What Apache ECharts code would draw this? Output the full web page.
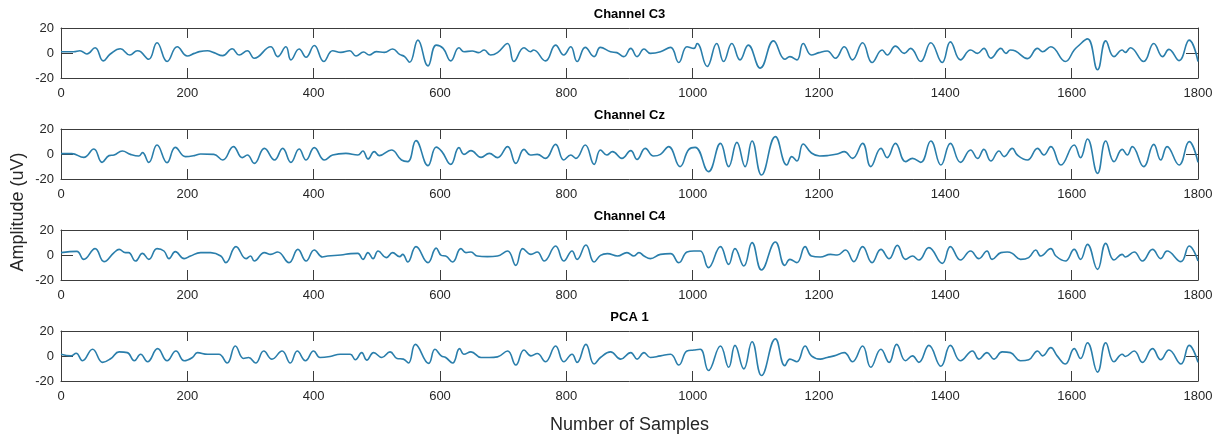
<!DOCTYPE html>
<html>
<head>
<meta charset="utf-8">
<title>EEG channels and first principal component</title>
<script src="https://cdn.jsdelivr.net/npm/echarts@6.0.0/dist/echarts.min.js"></script>
<style>
  html, body { margin: 0; padding: 0; background: #ffffff; }
  #chart { width: 1226px; height: 441px; }
</style>
</head>
<body>
<div id="chart"></div>
<script>
// Sample range and amplitude range shared by every panel
const sampleMin = 0;
const sampleMax = 1800;
const sampleStep = 200;
const ampMin = -20;
const ampMax = 20;
const ampStep = 20;

const panelTitles = ['Channel C3', 'Channel Cz', 'Channel C4', 'PCA 1'];

// [sample index, amplitude in uV] at the turning points of each trace
const c3 = [
  [0,1],[20,1],[30,1.8],[41,-0.8],[54,4.2],[67,-6.3],[78,-0.8],[94,3.4],[109,-1.6],[121,1.8],[126,1.1],
  [139,-5],[152,8.2],[168,-6.8],[184,5],[200,-2.4],[211,-0.3],[219,1.1],[232,1.8],[242,0.3],[256,-2.1],
  [271,3.4],[282,-1.6],[295,1.8],[306,-4.2],[332,5],[343,-2.9],[356,5],[364,-5.5],[377,3.2],[388,-3.4],
  [401,6],[416,-6.8],[430,1.8],[443,0.5],[457,1.8],[467,-2.4],[479,0.8],[488,-1.6],[499,1.1],[512,0.5],
  [525,3.2],[536,-1.1],[544,-2.9],[552,-7.4],[565,10.3],[581,-10.3],[594,6.3],[605,3.7],[617,-6.3],
  [630,4.2],[638,1],[651,1.6],[661,0.3],[670,2.4],[680,-1.6],[691,0.3],[707,7.6],[717,-6.8],[733,4.2],
  [743,1],[748,2.4],[767,-6.3],[783,6.3],[796,-1.6],[807,5],[817,-6.8],[830,4.5],[844,-2.9],[854,4.5],
  [870,1],[880,0.3],[891,-2.9],[902,3.7],[912,-2.9],[923,3.2],[933,-0.3],[949,1],[965,4.5],[978,-7.6],
  [991,5],[1002,3.7],[1007,7.6],[1023,-10.8],[1038,7.6],[1049,-6.8],[1062,7.6],[1075,-5.5],[1088,6.3],
  [1107,-12.1],[1128,9.7],[1146,-5],[1154,-2.9],[1165,-5.5],[1175,7.6],[1188,-1.6],[1200,0.3],[1213,1.6],
  [1226,-4.2],[1240,5],[1253,-5.5],[1269,8.2],[1284,-7.6],[1300,2.4],[1308,-1.6],[1321,5.5],[1335,-0.3],
  [1345,3.7],[1361,-6.8],[1377,8.2],[1395,-7.6],[1408,8.9],[1424,-5.5],[1440,2.4],[1451,-0.3],[1461,3.7],
  [1472,-4.2],[1488,3.7],[1496,-0.3],[1503,2.4],[1511,1.6],[1530,-4.5],[1546,3.7],[1554,1],[1567,5],
  [1590,-6.8],[1604,2.4],[1609,5],[1625,11.3],[1641,-13.4],[1654,9.7],[1667,-2.9],[1680,2.4],[1685,0.5],
  [1693,4.2],[1714,-6.8],[1730,7.6],[1744,-2.9],[1754,2.9],[1770,-6.1],[1786,10.3],[1800,-6.8]
];

const cz = [
  [0,0.3],[17,0.3],[36,-2.7],[52,4],[65,-6.7],[76,-1.3],[84,-0.8],[97,2.4],[110,-0.3],[123,-1.6],[129,1.1],
  [139,-6.7],[152,7.2],[168,-6.9],[181,5.3],[197,-2.1],[211,-1.3],[221,0],[242,-0.3],[256,-4.8],[273,5.9],
  [287,-2.9],[295,-0.8],[306,-7.5],[322,4.5],[338,-4.8],[351,4.5],[364,-6.7],[377,4],[388,-4.8],[401,5.1],
  [417,-4.8],[430,-0.8],[451,0.5],[470,-0.8],[478,2.4],[486,-4],[496,1.9],[504,-1.3],[523,3.2],[539,-4.8],
  [549,-6.1],[562,10.7],[581,-9.3],[594,5.5],[603,1.9],[617,-8.3],[630,5.1],[638,-0.3],[649,2.7],[665,-2.7],
  [678,0.5],[691,-2.9],[707,5.9],[720,-7.5],[733,3.7],[743,-0.8],[754,-0.3],[767,-3.5],[783,7.7],[796,-4.8],
  [807,-0.8],[815,-3.5],[830,7.2],[844,-8.3],[854,3.2],[864,-0.8],[873,1.9],[888,-3.5],[902,2.7],[912,-4.3],
  [925,4.5],[938,-1.6],[949,-0.3],[962,5.9],[980,-10.1],[994,3.7],[1004,5.3],[1025,-14.1],[1044,8.5],
  [1057,-10.1],[1070,9.3],[1083,-10.1],[1094,10.4],[1109,-16.8],[1131,13.9],[1149,-8.8],[1157,-2.1],
  [1165,-5.6],[1175,8],[1188,0.8],[1201,-1.6],[1213,-1.3],[1229,0],[1240,1.9],[1253,-3.5],[1269,8.5],
  [1282,-10.1],[1298,4.5],[1308,-2.9],[1321,8.5],[1337,-6.1],[1348,-3.5],[1361,-6.7],[1377,10.4],
  [1393,-8.8],[1408,8.5],[1424,-6.7],[1440,3.2],[1451,-3.5],[1461,3.7],[1472,-5.6],[1485,2.4],[1493,-2.1],
  [1506,4.5],[1514,-0.8],[1530,-4.8],[1546,4.5],[1556,-0.8],[1567,5.9],[1583,-8.8],[1604,7.2],[1614,-2.9],
  [1625,12],[1641,-15.5],[1654,10.4],[1667,-6.1],[1680,3.7],[1688,-0.8],[1696,5.9],[1714,-10.1],[1730,7.7],
  [1741,-4.8],[1751,5.9],[1770,-8.8],[1786,9.9],[1800,-6.7]
];

const c4 = [
  [0,1.9],[25,2.9],[36,-3.5],[54,5.1],[68,-5.3],[84,1.9],[92,4.5],[102,1.9],[107,1.9],[118,-4.8],[129,1.3],
  [139,-3.5],[152,5.1],[163,3.2],[171,-2.9],[181,2.7],[195,-2.9],[205,-0.8],[221,1.9],[237,1.9],[253,-0.8],
  [261,-6.1],[277,6.7],[293,-2.9],[300,-0.8],[306,-4.8],[322,1.9],[332,0.5],[343,2.4],[361,-6.1],[375,4.5],
  [388,-4.8],[401,4],[414,-1.6],[422,-0.8],[443,0],[459,1.1],[470,1.3],[478,-3.5],[486,1.9],[494,-2.9],
  [502,3.2],[515,-2.1],[525,1.9],[536,-1.3],[541,0.5],[549,-5.6],[562,6.7],[581,-6.1],[594,5.5],[602,-0.3],
  [609,-0.8],[620,-5.6],[633,5.1],[641,1.9],[649,2.4],[659,-0.8],[675,-1.3],[691,-0.8],[707,3.2],[720,-8.3],
  [731,5.1],[744,0.5],[754,2.4],[765,-4.8],[783,7.2],[796,-4.8],[809,3.2],[817,-3.5],[831,8],[844,-5.6],
  [854,-0.3],[865,1.1],[881,-0.8],[896,1.9],[907,-0.8],[915,1.9],[923,-0.8],[933,-2.9],[949,0.5],[965,1.1],
  [978,-6.1],[991,2.4],[1002,3.2],[1012,3.2],[1025,-10.1],[1044,6.7],[1057,-7.5],[1067,5.1],[1081,-8.8],
  [1094,9.9],[1109,-12],[1131,10.4],[1146,-8.3],[1154,-3.5],[1165,-6.1],[1178,6.7],[1188,-0.8],[1202,-1.6],
  [1218,0.5],[1229,0],[1242,4],[1255,-5.3],[1269,6.7],[1284,-6.1],[1298,4.5],[1311,-2.9],[1324,7.7],
  [1337,-3.5],[1348,-0.8],[1358,-4],[1374,5.9],[1395,-6.7],[1408,6.7],[1424,-4],[1440,3.2],[1453,-2.9],
  [1466,3.2],[1474,-3.5],[1488,1.9],[1498,2.4],[1506,1.3],[1519,-3.5],[1532,-2.1],[1543,4],[1551,-0.8],
  [1567,5.1],[1575,-0.8],[1590,-4.8],[1604,4.5],[1614,-3.5],[1625,8.5],[1641,-11.5],[1654,9.3],[1667,-4],
  [1680,0.5],[1685,-1.6],[1699,2.4],[1712,-4.8],[1728,4.5],[1741,-2.9],[1751,3.2],[1773,-5.3],[1786,7.2],
  [1800,-4.8]
];

const pca1 = [
  [0,1.4],[16,0.1],[24,2.2],[34,-3.8],[50,5.4],[66,-5.1],[79,-2],[92,3.3],[105,2.7],[116,-3.8],[126,1.4],
  [137,-4.6],[153,5.9],[168,-3.8],[182,4],[195,-3.8],[208,-1.2],[216,2.7],[232,1.4],[250,1.4],[263,-5.6],
  [276,8],[289,-2],[297,-1.2],[308,-5.6],[321,4],[334,-2.5],[350,4],[363,-5.6],[374,4],[387,-3.8],[400,4],
  [410,-1.2],[426,-0.4],[442,1.4],[458,1.4],[466,-3],[476,2.7],[484,-3.3],[495,2.7],[508,-1.2],[521,3.3],
  [532,-2],[542,-2.5],[550,-5.6],[561,9.3],[582,-5.9],[592,5.4],[602,0.1],[609,-1.2],[620,-5.6],[631,5.9],
  [638,1.4],[649,3.3],[665,-1.2],[678,-1.2],[691,-0.7],[707,4],[720,-7.2],[733,4.8],[744,0.1],[754,2],
  [767,-4.6],[783,8],[796,-4.6],[809,1.4],[817,-5.1],[831,9.3],[844,-6.4],[854,-1.2],[870,3.3],[886,-2.5],
  [902,2.7],[912,-2.5],[923,2.7],[933,-1.2],[949,0.1],[965,1.4],[978,-7.2],[991,4],[1002,4.8],[1012,5.4],
  [1025,-11.6],[1044,8],[1057,-9],[1067,8.5],[1081,-10.3],[1094,11.4],[1109,-15.6],[1131,13.7],[1146,-7.7],
  [1154,-2.5],[1165,-4.6],[1178,8],[1188,0.1],[1202,-2.5],[1213,-1.2],[1224,0.1],[1240,2.7],[1253,-4.6],
  [1269,8],[1282,-9],[1298,5.4],[1311,-5.1],[1323,9.3],[1337,-3.8],[1348,0.1],[1358,-5.1],[1374,8.5],
  [1393,-8.2],[1408,8.5],[1424,-3.8],[1443,4],[1453,-2.5],[1466,2.7],[1477,-2.5],[1490,3.3],[1503,2.7],
  [1519,-3.8],[1532,-3],[1546,4],[1554,0.1],[1567,6.7],[1577,0.1],[1590,-6.4],[1604,5.9],[1614,-2],
  [1625,10.6],[1641,-12.9],[1654,10.6],[1667,-4.6],[1680,1.4],[1685,-0.4],[1699,4],[1712,-5.1],[1728,5.9],
  [1741,-3],[1754,4.8],[1773,-6.4],[1786,8.5],[1800,-5.1]
];

const panelData = [c3, cz, c4, pca1];

// ---- layout and styling ----
const FONT = '"Liberation Sans", Arial, Helvetica, sans-serif';
const INK = '#262626';
const AXIS = '#3c3c3c';
const TRACE = '#2a7eab';
const plotLeft = 61;
const plotRight = 28;
const plotHeight = 50;
const panelTops = [28, 129, 230, 331];
const plotCenterX = plotLeft + (1226 - plotLeft - plotRight) / 2;

// plain integers, no thousands separator
const plainNumber = v => String(v);

const grids = [], xAxes = [], yAxes = [], series = [], titles = [];

panelTops.forEach((top, i) => {
  grids.push({ left: plotLeft, right: plotRight, top: top, height: plotHeight, containLabel: false });

  const xBase = {
    type: 'value', gridIndex: i, min: sampleMin, max: sampleMax, interval: sampleStep,
    splitLine: { show: false },
    axisLine: { show: true, onZero: false, lineStyle: { color: AXIS, width: 1 } },
    axisTick: { show: true, inside: true, length: 10, lineStyle: { color: AXIS, width: 1 } }
  };
  xAxes.push(Object.assign({}, xBase, {
    position: 'bottom',
    axisLabel: { show: true, fontFamily: FONT, fontSize: 13, color: INK, margin: 9, formatter: plainNumber }
  }));
  xAxes.push(Object.assign({}, xBase, {
    position: 'top',
    axisLabel: { show: false }
  }));

  const yBase = {
    type: 'value', gridIndex: i, min: ampMin, max: ampMax, interval: ampStep,
    splitLine: { show: false },
    axisLine: { show: true, onZero: false, lineStyle: { color: AXIS, width: 1 } },
    axisTick: { show: true, inside: true, length: 12, lineStyle: { color: AXIS, width: 1 } }
  };
  yAxes.push(Object.assign({}, yBase, {
    position: 'left',
    axisLabel: { show: true, fontFamily: FONT, fontSize: 13, color: INK, margin: 7, formatter: plainNumber }
  }));
  yAxes.push(Object.assign({}, yBase, {
    position: 'right',
    axisLabel: { show: false }
  }));

  titles.push({
    text: panelTitles[i],
    left: plotCenterX,
    textAlign: 'center',
    top: top - 20,
    padding: 0,
    textStyle: { fontFamily: FONT, fontSize: 13, fontWeight: 'bold', color: '#000000' }
  });

  series.push({
    type: 'line',
    name: panelTitles[i],
    xAxisIndex: i * 2,
    yAxisIndex: i * 2,
    data: panelData[i],
    showSymbol: false,
    smooth: 0.45,
    lineStyle: { color: TRACE, width: 1.6 },
    z: 1
  });
});

const chart = echarts.init(document.getElementById('chart'), null, { renderer: 'canvas' });
chart.setOption({
  backgroundColor: '#ffffff',
  animation: false,
  title: titles,
  grid: grids,
  xAxis: xAxes,
  yAxis: yAxes,
  series: series,
  graphic: [
    {
      type: 'text', x: plotCenterX, y: 425,
      style: { text: 'Number of Samples', fontFamily: FONT, fontSize: 18, fill: INK,
               align: 'center', verticalAlign: 'middle', textAlign: 'center', textVerticalAlign: 'middle' }
    },
    {
      type: 'text', x: 18, y: 212, rotation: Math.PI / 2,
      style: { text: 'Amplitude (uV)', fontFamily: FONT, fontSize: 18, fill: INK,
               align: 'center', verticalAlign: 'middle', textAlign: 'center', textVerticalAlign: 'middle' }
    }
  ]
});
</script>
</body>
</html>
